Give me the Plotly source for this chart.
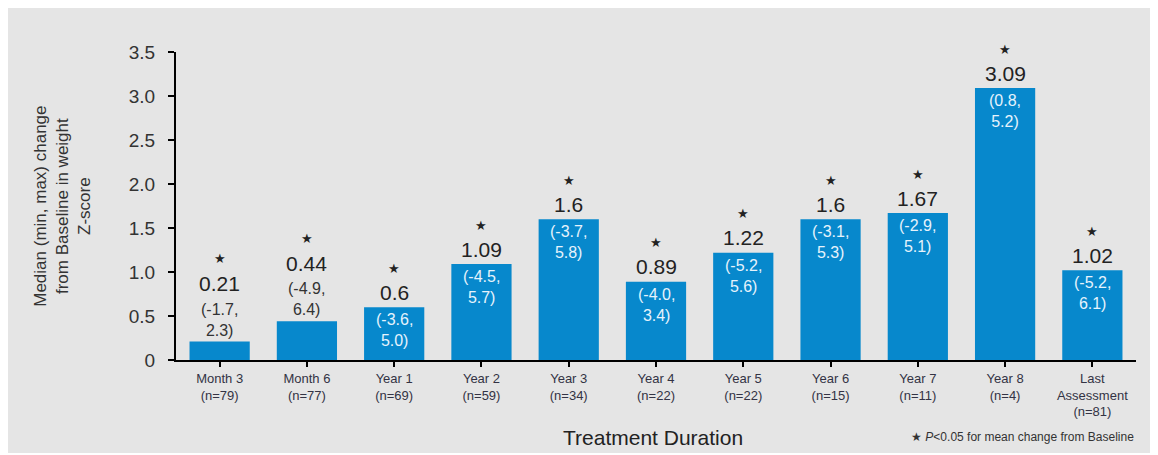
import plotly.graph_objects as go

categories = ["Month 3", "Month 6", "Year 1", "Year 2", "Year 3", "Year 4",
              "Year 5", "Year 6", "Year 7", "Year 8", "Last<br>Assessment"]
n_values = [79, 77, 69, 59, 34, 22, 22, 15, 11, 4, 81]
medians = [0.21, 0.44, 0.6, 1.09, 1.6, 0.89, 1.22, 1.6, 1.67, 3.09, 1.02]
mins = [-1.7, -4.9, -3.6, -4.5, -3.7, -4.0, -5.2, -3.1, -2.9, 0.8, -5.2]
maxs = [2.3, 6.4, 5.0, 5.7, 5.8, 3.4, 5.6, 5.3, 5.1, 5.2, 6.1]
range_inside = [False, False, True, True, True, True, True, True, True, True, True]

tick_text = [f"{c}<br>(n={n})" for c, n in zip(categories, n_values)]
xs = list(range(len(categories)))

BAR = "#0788cc"
BG = "#e5e5e5"
FONT = "Liberation Sans, Arial, sans-serif"

fig = go.Figure(go.Bar(x=xs, y=medians, width=0.69, marker_color=BAR,
                       marker_line_width=0, hoverinfo="skip"))

ann = []
for x, v, lo, hi, inside in zip(xs, medians, mins, maxs, range_inside):
    rng = f"({lo:.1f},<br>{hi:.1f})"
    if inside:
        ann.append(dict(x=x, y=v, text=rng, showarrow=False, yanchor="top", yshift=-2,
                        font=dict(size=16, color="#e6f3fc", family=FONT)))
        vshift, sshift = 15, 39
    else:
        ann.append(dict(x=x, y=v, text=rng, showarrow=False, yanchor="bottom", yshift=1,
                        font=dict(size=16, color="#333333", family=FONT)))
        vshift, sshift = 58, 83
    ann.append(dict(x=x, y=v, text=f"{v:g}", showarrow=False, yanchor="middle", yshift=vshift,
                    font=dict(size=21, color="#222222", family=FONT)))
    ann.append(dict(x=x, y=v, text="★", showarrow=False, yanchor="middle", yshift=sshift,
                    font=dict(size=13, color="#222222", family=FONT)))

ann.append(dict(xref="paper", yref="paper", x=0.497, y=-0.25, yanchor="middle",
                text="Treatment Duration", showarrow=False,
                font=dict(size=21, color="#222222", family=FONT)))
ann.append(dict(xref="paper", yref="paper", x=1.0, y=-0.25, xanchor="right", yanchor="middle",
                text="★ <i>P</i>&lt;0.05 for mean change from Baseline", showarrow=False,
                font=dict(size=12, color="#333333", family=FONT)))
ann.append(dict(xref="paper", yref="paper", x=-0.119, y=0.5, textangle=-90,
                xanchor="center", yanchor="middle",
                text="Median (min, max) change<br>from Baseline in weight<br>Z-score",
                showarrow=False, font=dict(size=17, color="#333333", family=FONT)))

# page has an 8px body margin; plot area on page: x 176..1136, y 52..360
L, R, T, B = 168, 22, 44, 93

fig.update_layout(
    width=1150, height=445,
    margin=dict(l=L, r=R, t=T, b=B),
    paper_bgcolor=BG, plot_bgcolor=BG,
    showlegend=False,
    annotations=ann,
    font=dict(family=FONT, color="#333333"),
    xaxis=dict(tickmode="array", tickvals=xs, ticktext=tick_text, range=[-0.5, 10.5],
               showline=True, linecolor="black", linewidth=2, ticks="outside",
               tickson="boundaries", ticklen=5, tickwidth=2, tickcolor="black",
               showgrid=False, zeroline=False,
               tickfont=dict(size=13, color="#333344", family=FONT)),
    yaxis=dict(range=[0, 3.5], tickvals=[0, 0.5, 1.0, 1.5, 2.0, 2.5, 3.0, 3.5],
               ticktext=["0", "0.5", "1.0", "1.5", "2.0", "2.5", "3.0", "3.5"],
               showline=True, linecolor="black", linewidth=2, ticks="outside",
               ticklen=6, tickwidth=2, tickcolor="black", showgrid=False, zeroline=False,
               ticklabelstandoff=9,
               tickfont=dict(size=19, color="#333333", family=FONT)),
)

fig.write_html("out.html")
